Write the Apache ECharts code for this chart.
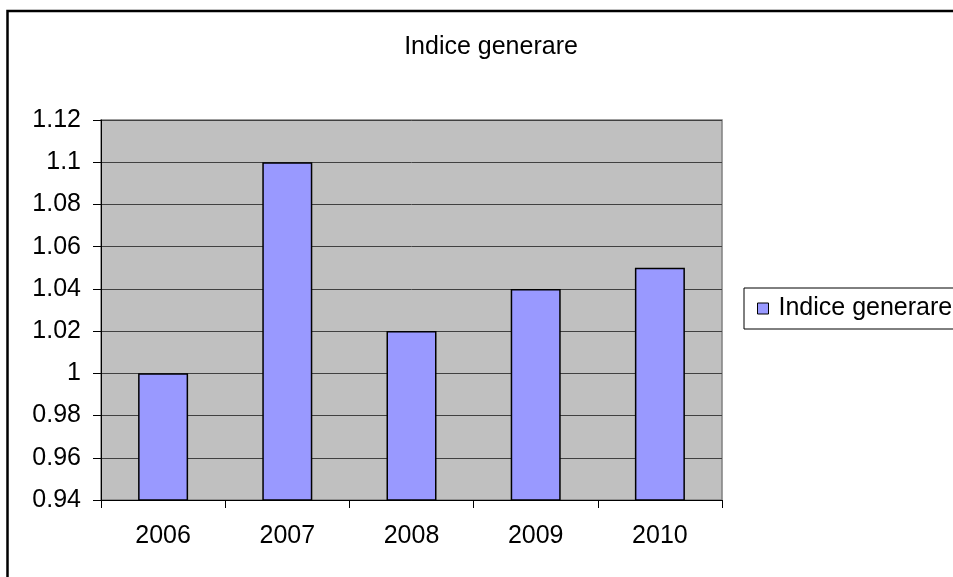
<!DOCTYPE html>
<html>
<head>
<meta charset="utf-8">
<script src="https://cdn.jsdelivr.net/npm/echarts@6/dist/echarts.min.js"></script>
<style>
html,body{margin:0;padding:0;background:#fff;}
#chart{width:953px;height:577px;}
</style>
</head>
<body>
<div id="chart"></div>
<script>
var categories = ['2006', '2007', '2008', '2009', '2010'];
var seriesName = 'Indice generare';
var values = [1.00, 1.10, 1.02, 1.04, 1.05];
var titleText = 'Indice generare';

var FONT = '"Liberation Sans", Arial, sans-serif';
var chart = echarts.init(document.getElementById('chart'));
chart.setOption({
  animation: false,
  backgroundColor: '#ffffff',
  title: {
    text: titleText,
    left: 486,
    top: 30,
    textAlign: 'center',
    textStyle: {fontFamily: FONT, fontSize: 25, fontWeight: 'normal', color: '#000'}
  },
  legend: {
    data: [seriesName],
    orient: 'vertical',
    left: 744,
    top: 288,
    padding: [8, 10, 8, 13],
    backgroundColor: '#fff',
    borderColor: '#000',
    borderWidth: 1,
    itemWidth: 11,
    itemHeight: 11,
    itemGap: 0,
    icon: 'rect',
    itemStyle: {borderColor: '#000', borderWidth: 1},
    textStyle: {fontFamily: FONT, fontSize: 25, color: '#000', padding: [0, 0, 0, 5]}
  },
  grid: {
    left: 101, right: 231, top: 120, bottom: 77,
    show: true,
    backgroundColor: '#C0C0C0',
    borderColor: '#808080',
    borderWidth: 1.5
  },
  xAxis: {
    type: 'category',
    data: categories,
    boundaryGap: true,
    axisLine: {lineStyle: {color: '#000', width: 1}},
    axisTick: {show: true, length: 8, lineStyle: {color: '#000'}},
    axisLabel: {fontFamily: FONT, fontSize: 25, color: '#000', margin: 24}
  },
  yAxis: {
    type: 'value',
    min: 0.94,
    max: 1.12,
    interval: 0.02,
    axisLine: {show: true, lineStyle: {color: '#000', width: 1}},
    axisTick: {show: true, length: 8, lineStyle: {color: '#000'}},
    axisLabel: {
      fontFamily: FONT, fontSize: 25, color: '#000', margin: 20,
      formatter: function (v) { return String(Math.round(v * 100) / 100); }
    },
    splitLine: {show: true, lineStyle: {color: '#404040', width: 1}}
  },
  series: [{
    name: seriesName,
    type: 'bar',
    data: values,
    barWidth: 50,
    itemStyle: {color: '#9999FF', borderColor: '#000', borderWidth: 1.5}
  }],
  graphic: [{
    type: 'rect',
    shape: {x: 7.5, y: 11, width: 1000, height: 1000},
    style: {fill: 'none', stroke: '#000', lineWidth: 2.5},
    silent: true
  }]
});
</script>
</body>
</html>
